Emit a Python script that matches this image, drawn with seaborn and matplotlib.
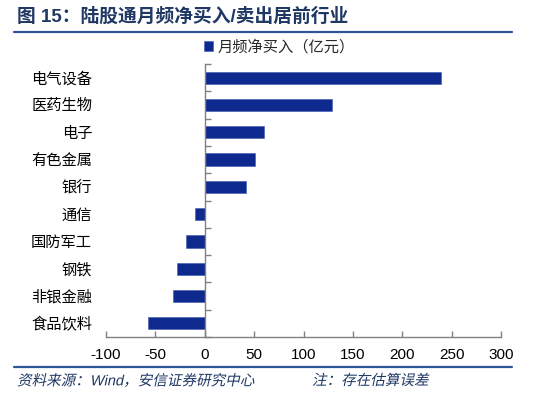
import matplotlib
matplotlib.use("Agg")
import matplotlib.pyplot as plt
import seaborn as sns
import pandas as pd
from matplotlib.patheffects import AbstractPathEffect
from matplotlib.transforms import Affine2D
from matplotlib.lines import Line2D
from matplotlib.ticker import FixedLocator

categories = ["电气设备", "医药生物", "电子", "有色金属", "银行", "通信", "国防军工", "钢铁", "非银金融", "食品饮料"]
values = [239, 128.5, 59.5, 50.5, 41.5, -10, -18.5, -28.5, -32.5, -57.5]
series_name = "月频净买入（亿元）"
x_ticks = [-100, -50, 0, 50, 100, 150, 200, 250, 300]

sns.set_theme(style="white")
plt.rcParams['font.family'] = ['Liberation Sans', 'Noto Sans CJK SC', 'DejaVu Sans']
plt.rcParams['axes.unicode_minus'] = False

BAR = "#0F2A8F"
AX = "#808080"
TITLE = "#1F3864"
RULE = "#2E5597"


class Skew(AbstractPathEffect):
    def __init__(self, deg=12):
        super().__init__()
        self.deg = deg

    def draw_path(self, renderer, gc, tpath, affine, rgbFace=None):
        ox, oy = affine.transform((0, 0))
        sk = Affine2D().translate(-ox, -oy).skew_deg(self.deg, 0).translate(ox, oy)
        renderer.draw_path(gc, tpath, affine + sk, rgbFace)


df = pd.DataFrame({"cat": categories, "val": values})

fig = plt.figure(figsize=(5.5, 3.94), dpi=100)
ax = fig.add_axes([106 / 550, 1 - 337 / 394, 395 / 550, 273 / 394])

sns.barplot(data=df, x="val", y="cat", color=BAR, saturation=1, width=0.45,
            edgecolor="#3E57B0", linewidth=0.4, label=series_name, ax=ax)

ax.set_xlim(-100, 300)
ax.set_ylim(9.5, -0.5)
ax.set_xticks(x_ticks)
ax.set_xticklabels([str(t) for t in x_ticks])
ax.set_xlabel("")
ax.set_ylabel("")

for s in ["top", "left"]:
    ax.spines[s].set_visible(False)
ax.spines["bottom"].set_color(AX)
ax.spines["bottom"].set_linewidth(1.0)
ax.spines["right"].set_position(("data", 0))
ax.spines["right"].set_color(AX)
ax.spines["right"].set_linewidth(1.0)

ax.tick_params(axis="x", direction="in", length=4, width=1, color=AX,
               labelsize=11, pad=8, labelcolor="black", bottom=True)
ax.tick_params(axis="y", which="major", length=0, pad=10, labelsize=11,
               labelcolor="black", left=True, right=False)
ax.yaxis.set_minor_locator(FixedLocator([i - 0.5 for i in range(len(categories) + 1)]))
ax.tick_params(axis="y", which="minor", left=False, right=True, direction="out",
               length=4, width=1, color=AX)

leg = ax.legend(loc="center", bbox_to_anchor=(0.44, 1 + 17 / 273), frameon=False,
                fontsize=11, handlelength=0.6, handleheight=0.6, handletextpad=0.3,
                borderpad=0)

# title and rules
fig.text(17 / 550, 1 - 17 / 394, "图 15：陆股通月频净买入/卖出居前行业", fontsize=13.5,
         fontweight="bold", color=TITLE, va="center", ha="left")
fig.add_artist(Line2D([14 / 550, 512 / 550], [1 - 32 / 394] * 2, color=RULE, lw=1.6,
                      transform=fig.transFigure))
fig.add_artist(Line2D([14 / 550, 512 / 550], [1 - 367 / 394] * 2, color=RULE, lw=1.6,
                      transform=fig.transFigure))
fig.text(17 / 550, 1 - 381 / 394, "资料来源：Wind，安信证券研究中心", fontsize=10.5,
         color=TITLE, va="center", ha="left", path_effects=[Skew(12)])
fig.text(312 / 550, 1 - 381 / 394, "注：存在估算误差", fontsize=10.5,
         color=TITLE, va="center", ha="left", path_effects=[Skew(12)])

fig.savefig("out.png", dpi=100)
